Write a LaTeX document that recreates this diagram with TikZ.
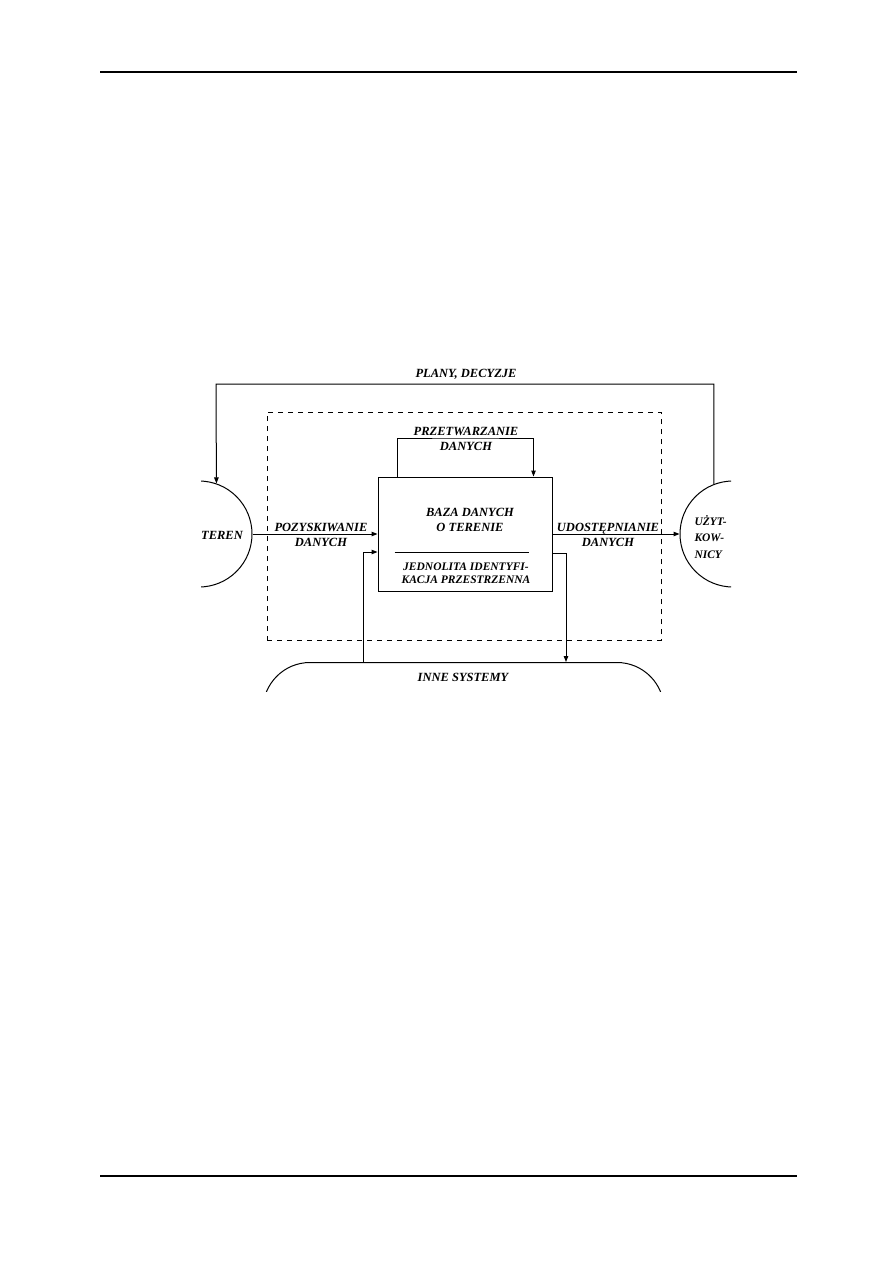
\documentclass[tikz,border=0pt]{standalone}
\usepackage{fontspec}
\setmainfont{Liberation Serif}
\usetikzlibrary{arrows.meta}
\begin{document}
\begin{tikzpicture}[x=1pt,y=-1pt, line width=1pt,
  lbl/.style={font=\fontsize{12.5}{15}\selectfont\bfseries\itshape, align=center, inner sep=0pt},
  arr/.style={-{Triangle[length=6pt,width=4.5pt]}},
  dashbox/.style={draw, dash pattern=on 5pt off 5pt, line width=1pt, inner sep=0pt},
  rule/.style={line width=1.3pt}]
\useasboundingbox (0,0) rectangle (893,1263);
% page rules
\coordinate (hl) at (100,72); \coordinate (hr) at (797,72);
\coordinate (fl) at (100,1176); \coordinate (fr) at (797,1176);
\draw[rule] (hl) -- (hr);
\draw[rule] (fl) -- (fr);
% system frame
\node[dashbox, minimum width=394pt, minimum height=228pt] (sys) at (464,526) {};
% side circles (cut at the scan edge)
\begin{scope}
\clip (201,0) rectangle (731,1263);
\node[circle, draw, minimum size=106pt, inner sep=0pt] (teren) at (199,534) {};
\node[circle, draw, minimum size=106pt, inner sep=0pt] (uzyt) at (733,534) {};
\end{scope}
% other systems
\begin{scope}
\clip (0,0) rectangle (893,691);
\node[draw, rounded corners=47pt, minimum width=401pt, minimum height=98pt, anchor=north, inner sep=0pt] (inne) at (463.5,662) {};
\end{scope}
% database box
\node[draw, minimum width=174pt, minimum height=114pt, inner sep=0pt] (box) at (465,534) {};
\draw ([xshift=17pt,yshift=-18pt]box.west) -- ([xshift=-24pt,yshift=-18pt]box.east);
% connectors
\coordinate (tl) at (216,384);
\draw[arr] (uzyt.111) |- (tl) -- (teren.71);
\draw[arr] (teren.east) -- (box.west);
\draw[arr] (box.east) -- (uzyt.west);
\coordinate (lt) at (466,438);
\draw[arr] ([xshift=20pt]box.north west) |- (lt) -| ([xshift=-19pt]box.north east);
\coordinate (bl) at (363,0);
\coordinate (br) at (566,0);
\draw[arr] (inne.north -| bl) |- ([yshift=-18pt]box.west);
\draw[arr] ([yshift=-19pt]box.east) -| (inne.north -| br);
% labels
\node[lbl] (tplan) at (466,374) {PLANY, DECYZJE};
\node[lbl] (tprz) at (466,439) {PRZETWARZANIE\\DANYCH};
\node[lbl] (tpoz) at (321,535) {POZYSKIWANIE\\DANYCH};
\node[lbl] (tudo) at (608,535) {UDOSTĘPNIANIE\\DANYCH};
\node[lbl] (tbaza) at (470,520) {BAZA DANYCH\\O TERENIE};
\node[lbl, font=\fontsize{11.5}{13.5}\selectfont\bfseries\itshape] (tjed) at (466,573) {JEDNOLITA IDENTYFI-\\KACJA PRZESTRZENNA};
\node[lbl] (tter) at (222,535) {TEREN};
\node[lbl, align=left, anchor=west, font=\fontsize{11.5}{16.5}\selectfont\bfseries\itshape] (tuzy) at (694,537) {UŻYT-\\KOW-\\NICY};
\node[lbl] (tinne) at (463,677) {INNE SYSTEMY};
\end{tikzpicture}
\end{document}
